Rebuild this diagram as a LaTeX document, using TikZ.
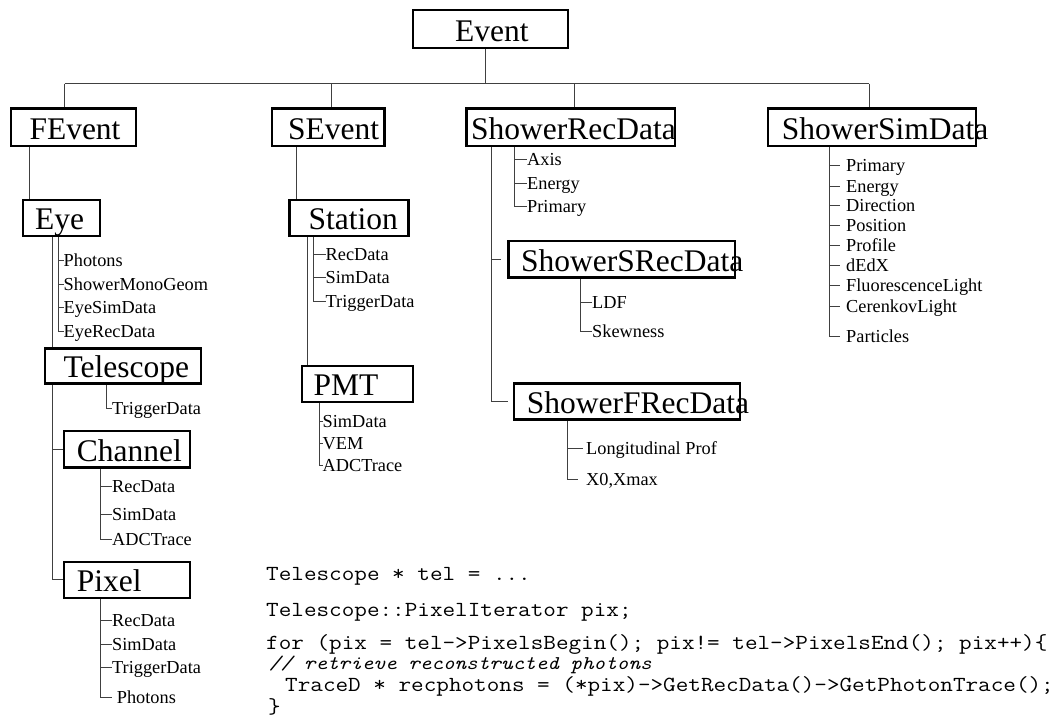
\documentclass[tikz,border=0pt]{standalone}
\usepackage{fontspec}
\usepackage{graphicx}
\setmainfont{Liberation Serif}
\newcommand\codewide[1]{\scalebox{1.138}[1]{#1}}
\pgfdeclarelayer{bg}
\pgfsetlayers{bg,main}
\tikzset{
  box/.style={draw=black, line width=2.4pt, fill=white, inner sep=0pt, rectangle},
  conn/.style={draw=black!75, line width=1pt},
  big/.style={font=\fontsize{31.5}{34}\selectfont, inner sep=0pt, anchor=base west},
  lbl/.style={font=\fontsize{18.3}{20}\selectfont, inner sep=0pt, text height=12pt, text depth=0pt, anchor=west},
  codeline/.style={font=\ttfamily\fontsize{21.5}{24}\selectfont, inner sep=0pt, anchor=base west},
  cmtline/.style={font=\ttfamily\itshape\fontsize{19.4}{22}\selectfont, inner sep=0pt, anchor=base west}
}
\begin{document}
\begin{tikzpicture}[x=1pt,y=-1pt]
\useasboundingbox (0,0) rectangle (1064,720);
\begin{pgfonlayer}{bg}
\fill[white] (0,0) rectangle (1064,720);
\end{pgfonlayer}

% ---------- boxes ----------
\node[box, minimum width=155pt, minimum height=38pt] (ev) at (490.5,29) {};
\node[box, minimum width=125pt, minimum height=37.5pt] (fe) at (73.5,127.25) {};
\node[box, minimum width=112.6pt, minimum height=37.5pt] (se) at (328.3,127.25) {};
\node[box, minimum width=208.4pt, minimum height=37.5pt] (srd) at (570.8,127.25) {};
\node[box, minimum width=208pt, minimum height=37.5pt] (ssd) at (872,127.25) {};
\node[box, minimum width=77.3pt, minimum height=35.7pt] (eye) at (61.35,217.85) {};
\node[box, minimum width=156pt, minimum height=35pt] (tel) at (123,365.8) {};
\node[box, minimum width=126pt, minimum height=36.3pt] (ch) at (127,449.15) {};
\node[box, minimum width=126pt, minimum height=36pt] (px) at (127,579.7) {};
\node[box, minimum width=119pt, minimum height=35.7pt] (st) at (348.8,217.85) {};
\node[box, minimum width=111pt, minimum height=36pt] (pmt) at (357.2,384) {};
\node[box, minimum width=226.7pt, minimum height=36.3pt] (ssrd) at (621.65,259.15) {};
\node[box, minimum width=226pt, minimum height=36pt] (sfrd) at (627,401.3) {};

% ---------- box texts ----------
\node[big] (evt) at (455,41.7) {Event};
\node[big] (fet) at (29.3,139.7) {FEvent};
\node[big] (set) at (288,139.7) {SEvent};
\node[big] (srdt) at (471,139.7) {ShowerRecData};
\node[big] (ssdt) at (781.7,139.7) {ShowerSimData};
\node[big] (eyet) at (35,229.4) {Eye};
\node[big] (telt) at (63.3,377.3) {Telescope};
\node[big] (cht) at (76.7,461) {Channel};
\node[big] (pxt) at (76.7,591) {Pixel};
\node[big] (stt) at (308.3,229.4) {Station};
\node[big] (pmtt) at (313.3,395.5) {PMT};
\node[big] (ssrdt) at (521,271) {ShowerSRecData};
\node[big] (sfrdt) at (526.7,413) {ShowerFRecData};

% ---------- leaf labels ----------
\node[lbl] (e1) at (63.5,260.7) {Photons};
\node[lbl] (e2) at (63.5,284.3) {ShowerMonoGeom};
\node[lbl] (e3) at (63.5,307.7) {EyeSimData};
\node[lbl] (e4) at (63.5,331.7) {EyeRecData};
\node[lbl] (t1) at (112,408.3) {TriggerData};
\node[lbl] (c1) at (112,486) {RecData};
\node[lbl] (c2) at (112,514.3) {SimData};
\node[lbl] (c3) at (112,539.3) {ADCTrace};
\node[lbl] (p1) at (112,620.7) {RecData};
\node[lbl] (p2) at (112,644.3) {SimData};
\node[lbl] (p3) at (112,667.3) {TriggerData};
\node[lbl] (p4) at (116.7,697.7) {Photons};
\node[lbl] (s1) at (325.5,254) {RecData};
\node[lbl] (s2) at (325.5,277.7) {SimData};
\node[lbl] (s3) at (325.5,301) {TriggerData};
\node[lbl] (m1) at (322.5,421) {SimData};
\node[lbl] (m2) at (322.5,443) {VEM};
\node[lbl] (m3) at (322.5,465) {ADCTrace};
\node[lbl] (r1) at (527,159.3) {Axis};
\node[lbl] (r2) at (527,183.3) {Energy};
\node[lbl] (r3) at (527,206.7) {Primary};
\node[lbl] (q1) at (592,302.7) {LDF};
\node[lbl] (q2) at (592,331) {Skewness};
\node[lbl] (f1) at (586,448.3) {Longitudinal Prof};
\node[lbl] (f2) at (586,479) {X0,Xmax};
\node[lbl] (d1) at (846,165) {Primary};
\node[lbl] (d2) at (846,186) {Energy};
\node[lbl] (d3) at (846,205.7) {Direction};
\node[lbl] (d4) at (846,225.7) {Position};
\node[lbl] (d5) at (846,245.7) {Profile};
\node[lbl] (d6) at (846,265.7) {dEdX};
\node[lbl] (d7) at (846,285.7) {FluorescenceLight};
\node[lbl] (d8) at (846,306) {CerenkovLight};
\node[lbl] (d9) at (846,336) {Particles};

% ---------- code ----------
\node[codeline] (k1) at (266,580) {\codewide{Telescope * tel = ...}};
\node[codeline] (k2) at (266,616) {\codewide{Telescope::PixelIterator pix;}};
\node[codeline] (k3) at (266,649) {\codewide{for (pix = tel->PixelsBegin(); pix!= tel->PixelsEnd(); pix++)\{}};
\node[cmtline] (k4) at (269,669) {\codewide{// retrieve reconstructed photons}};
\node[codeline] (k5) at (285,691) {\codewide{TraceD * recphotons = (*pix)->GetRecData()->GetPhotonTrace();}};
\node[codeline] (k6) at (268,713) {\codewide{\}}};

% ---------- connectors ----------
\begin{pgfonlayer}{bg}
\coordinate (busL) at (64.7,83.7);
\coordinate (busR) at (869,83.7);
\draw[conn] (busL) -- (busR);
\draw[conn] ([xshift=-5pt]ev.south) -- ([xshift=-5pt]ev.south |- busL);
\draw[conn] (busL) -- (busL |- fe.north);
\draw[conn] ([xshift=2.7pt]se.north) -- ([xshift=2.7pt]se.north |- busL);
\draw[conn] ([xshift=3.2pt]srd.north) -- ([xshift=3.2pt]srd.north |- busL);
\draw[conn] (busR) -- (busR |- ssd.north);

% FEvent branch
\draw[conn] ([xshift=-44.5pt]fe.south) -- ([xshift=-44.5pt]fe.south |- eye.north);
\coordinate (eyeA) at ([xshift=-8.65pt]eye.south);
\coordinate (eyeB) at ([xshift=-2.65pt]eye.south);
\draw[conn] (eyeA) |- (ch.west);
\draw[conn] (eyeA) |- (px.west);
\foreach \n in {e1,e2,e3,e4} \draw[conn] (eyeB) |- (\n.west);
\coordinate (telA) at ([xshift=-17pt]tel.south);
\draw[conn] (telA) |- (t1.west);
\coordinate (chA) at ([xshift=-27pt]ch.south);
\foreach \n in {c1,c2,c3} \draw[conn] (chA) |- (\n.west);
\coordinate (pxA) at ([xshift=-27pt]px.south);
\foreach \n in {p1,p2,p3} \draw[conn] (pxA) |- (\n.west);
\draw[conn] (pxA) |- ([xshift=-5pt]p4.west);

% SEvent branch
\draw[conn] ([xshift=-32.3pt]se.south) -- ([xshift=-32.3pt]se.south |- st.north);
\draw[conn] ([xshift=-41.1pt]st.south) -- ([xshift=-41.1pt]st.south |- pmt.north);
\coordinate (stB) at ([xshift=-35.5pt]st.south);
\foreach \n in {s1,s2,s3} \draw[conn] (stB) |- (\n.west);
\coordinate (pmtA) at ([xshift=-37.9pt]pmt.south);
\foreach \n in {m1,m2,m3} \draw[conn] (pmtA) |- (\n.west);

% ShowerRecData branch
\coordinate (srdA) at ([xshift=-79.8pt]srd.south);
\draw[conn] (srdA) |- ([xshift=-4.7pt]sfrd.west);
\draw[conn] (srdA |- ssrd.west) -- ([xshift=-6.6pt]ssrd.west);
\coordinate (srdB) at ([xshift=-56.5pt]srd.south);
\foreach \n in {r1,r2,r3} \draw[conn] (srdB) |- (\n.west);
\coordinate (ssrdA) at ([xshift=-41.65pt]ssrd.south);
\foreach \n in {q1,q2} \draw[conn] (ssrdA) |- (\n.west);
\coordinate (sfrdA) at ([xshift=-59.3pt]sfrd.south);
\draw[conn] (sfrdA) |- ([xshift=-2.7pt]f1.west);
\draw[conn] (sfrdA) |- ([xshift=-8pt]f2.west);

% ShowerSimData branch
\coordinate (ssdA) at ([xshift=-43pt]ssd.south);
\foreach \n in {d1,d2,d3,d4,d5,d6,d7,d8,d9} \draw[conn] (ssdA) |- ([xshift=-6pt]\n.west);
\end{pgfonlayer}
\end{tikzpicture}
\end{document}
